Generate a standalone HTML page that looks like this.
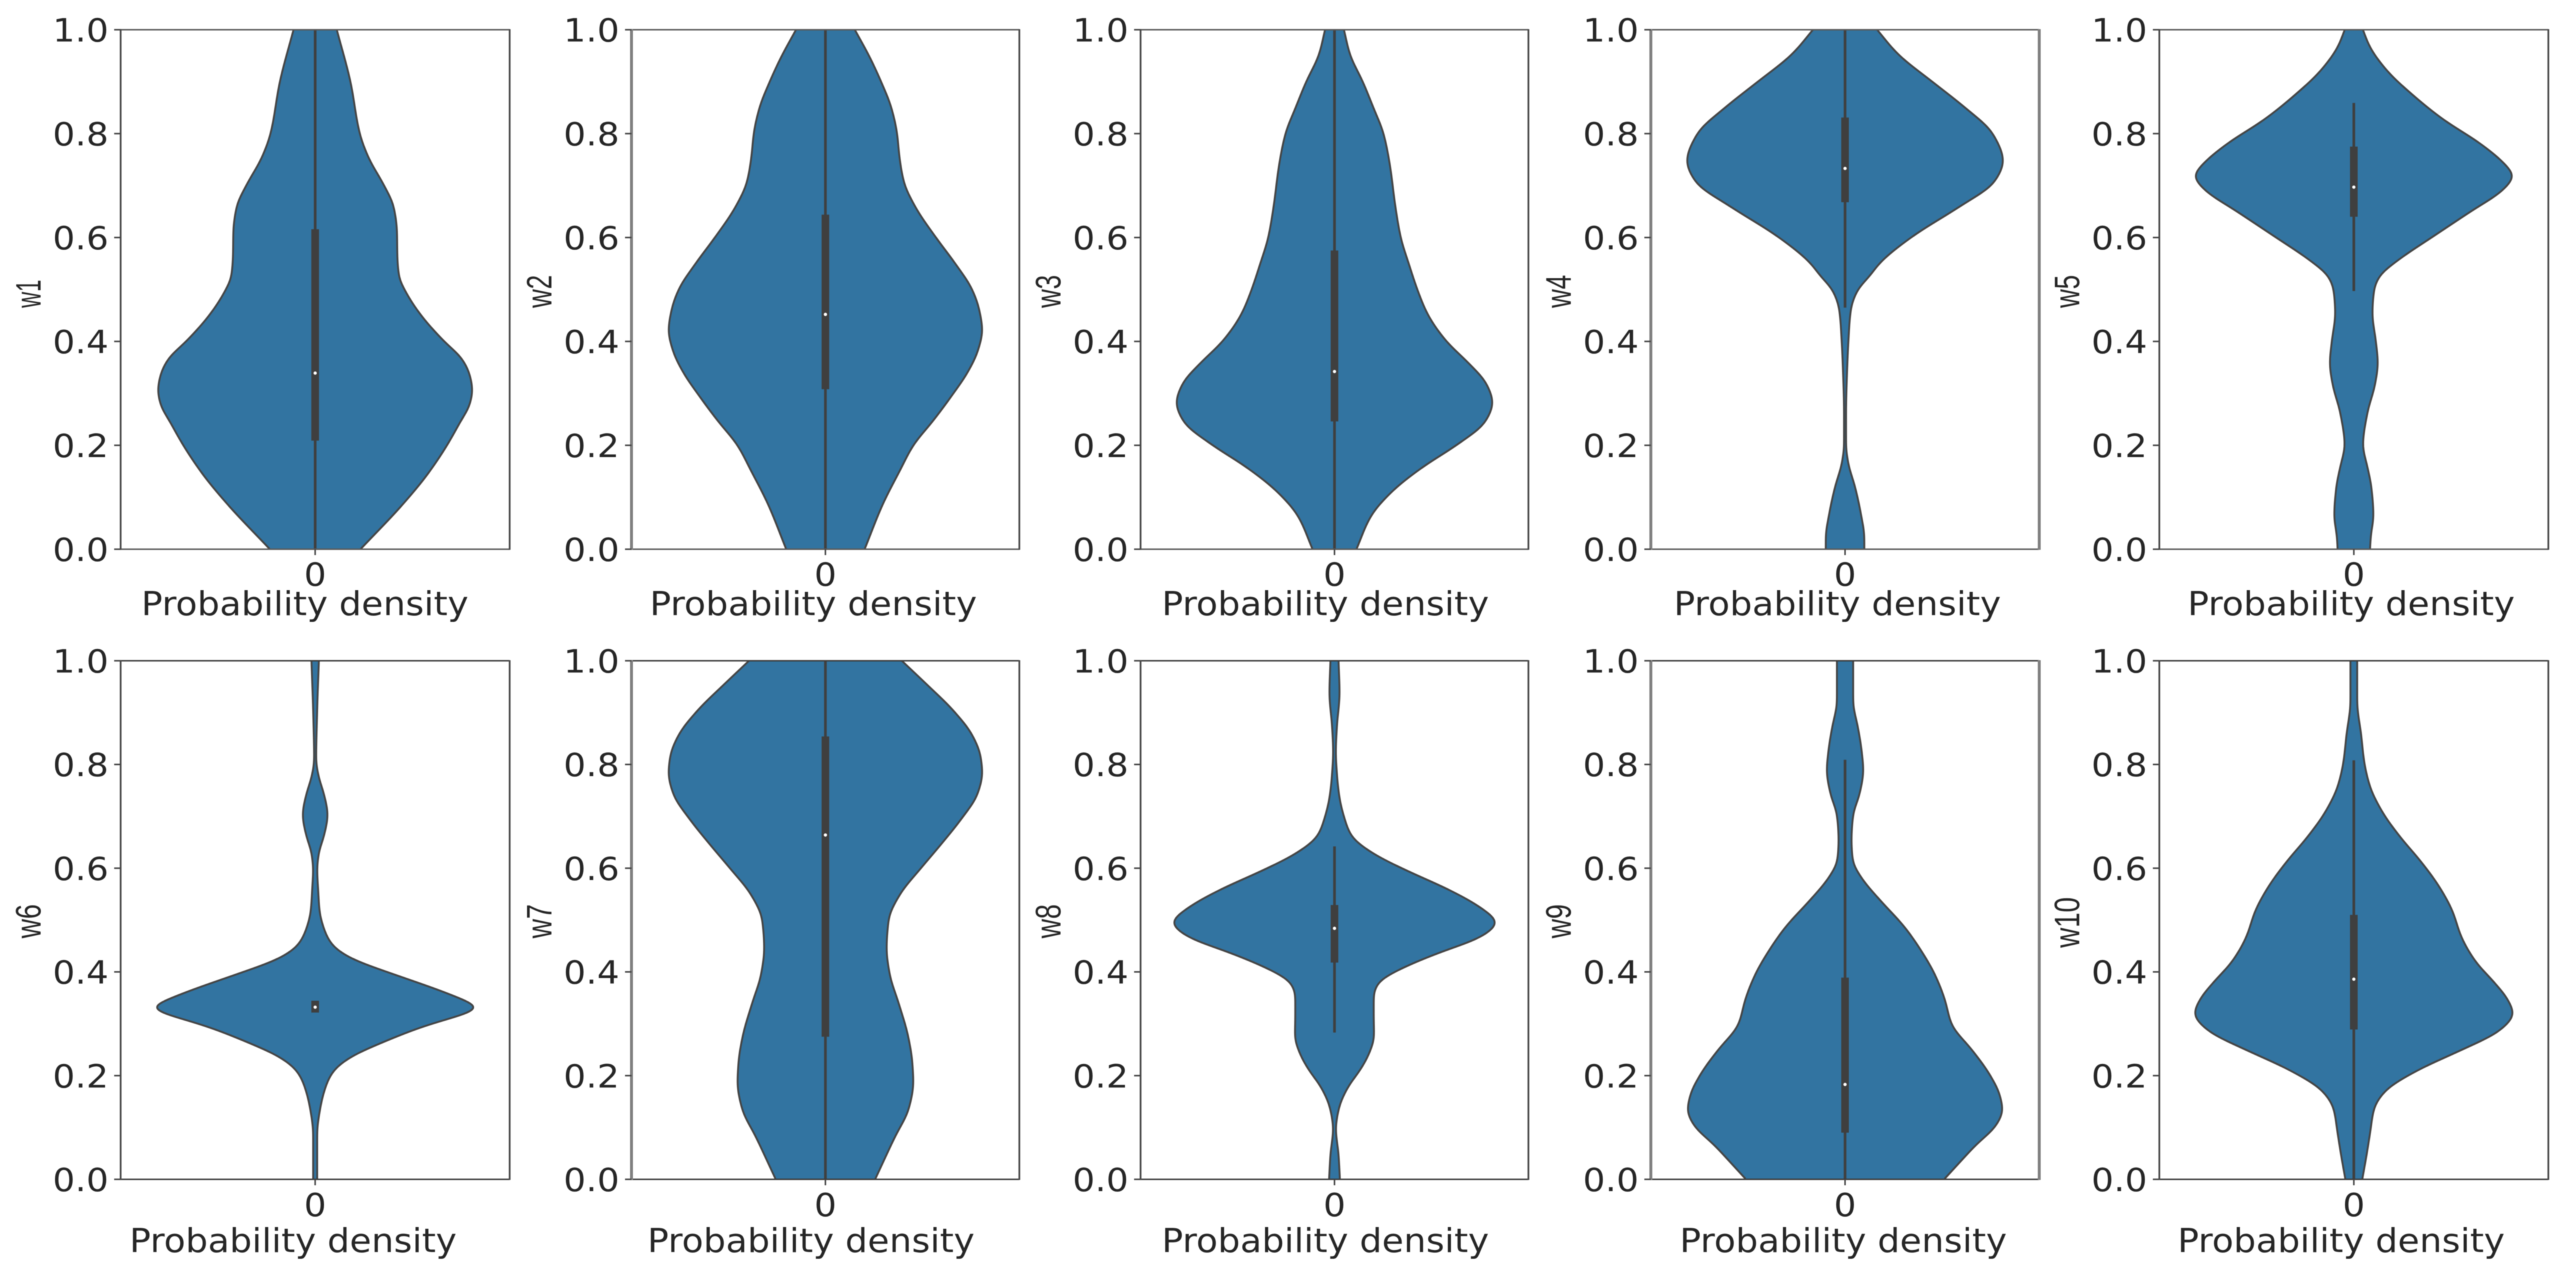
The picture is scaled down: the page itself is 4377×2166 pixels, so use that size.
<!DOCTYPE html>
<html lang="en">
<head>
<meta charset="utf-8">
<title>Violin plots of w1 to w10</title>
<style>
html,body{margin:0;padding:0;background:#fff;}
svg{display:block;filter:blur(0.7px);}
text{fill:#262626;font-family:"DejaVu Sans","Liberation Sans",sans-serif;}
.ylab{font-family:"Liberation Sans","DejaVu Sans",sans-serif;}
</style>
</head>
<body>
<svg id="chart" xmlns="http://www.w3.org/2000/svg" width="4377" height="2166" viewBox="0 0 4377 2166"></svg>
<script>
// ---- data ----
const categories = ['w1','w2','w3','w4','w5','w6','w7','w8','w9','w10'];
const yTickValues = [0, 0.2, 0.4, 0.6, 0.8, 1.0];
const yTickLabels = ['0.0','0.2','0.4','0.6','0.8','1.0'];
const xTickLabel = '0';
const xAxisTitle = 'Probability density';

const w1Y = [1,.898,.8,.755,.7,.66,.612,.565,.525,.493,.453,.401,.366,.334,.306,.278,.246,.2,.143,.087,0];
const w1Density = [64,105,132,157,204,232,242,243,248,270,310,380,435,458,465,457,430,390,331,260,134];

const w2Y = [1,.946,.898,.85,.8,.755,.707,.66,.6,.549,.5,.461,.421,.382,.342,.294,.246,.2,.151,.087,0];
const w2Density = [87,132,166,195,212,219,232,265,327,385,434,455,464,451,422,372,317,260,220,170,116];

const w3Y = [1,.954,.898,.85,.8,.739,.66,.6,.549,.5,.453,.401,.358,.318,.282,.246,.2,.159,.111,.064,0];
const w3Density = [28,45,85,115,145,164,180,196,220,245,275,330,397,450,468,447,360,263,170,108,65];

const w4Y = [1,.954,.898,.85,.8,.747,.707,.66,.6,.549,.525,.5,.461,.401,.342,.262,.2,.167,.119,.064,.024,0];
const w4Density = [95,155,262,355,437,468,442,340,195,100,72,38,17,10,6,3,3,9,30,48,57,57];

const w5Y = [1,.97,.922,.874,.827,.779,.739,.719,.692,.652,.6,.556,.525,.5,.453,.401,.358,.318,.262,.2,.159,.119,.064,.024,0];
const w5Density = [27,45,97,175,265,378,450,472,442,350,230,130,75,60,55,65,71,63,40,27,40,52,58,50,48];

const w6Y = [1,.905,.808,.775,.743,.703,.662,.63,.598,.557,.517,.485,.452,.428,.396,.364,.343,.331,.319,.299,.267,.234,.21,.186,.137,.089,0];
const w6Density = [11,6,3,11,26,37,26,11,6,9,13,25,50,100,230,370,450,490,445,338,210,100,55,35,15,6,6];

const w7Y = [1,.953,.905,.856,.816,.783,.743,.695,.646,.598,.549,.501,.444,.396,.339,.275,.226,.186,.137,.081,0];
const w7Density = [226,302,377,435,459,464,450,402,342,280,220,187,181,190,217,245,257,260,247,205,147];

const w8Y = [1,.937,.872,.824,.775,.735,.695,.662,.63,.598,.557,.525,.495,.469,.436,.404,.38,.355,.315,.275,.242,.21,.178,.137,.097,.048,0];
const w8Density = [12,15,7,4,8,15,30,50,110,205,343,430,480,438,305,190,130,116,116,117,102,75,40,13,4,12,16];

const w9Y = [1,.921,.872,.832,.788,.743,.703,.654,.614,.582,.541,.485,.436,.396,.347,.299,.25,.202,.162,.133,.105,.065,.032,0];
const w9Density = [24,24,38,48,54,43,24,19,23,48,100,178,230,265,295,315,375,428,458,466,448,385,338,293];

const w10Y = [1,.921,.856,.808,.759,.711,.662,.614,.565,.517,.469,.42,.38,.347,.319,.287,.25,.21,.17,.137,.089,.048,0];
const w10Density = [10,10,22,30,47,82,135,197,252,292,317,360,415,455,472,432,320,188,92,60,48,38,25];

const q1Values = [.209,.308,.246,.668,.64,.325,.275,.418,.09,.289];
const q3Values = [.616,.644,.575,.831,.775,.341,.854,.529,.389,.51];
const medianValues = [.339,.452,.342,.733,.697,.332,.664,.484,.183,.386];
const whiskerLowValues = [0,0,0,.465,.497,.325,0,.283,0,0];
const whiskerHighValues = [1,1,1,1,.859,.341,1,.642,.809,.808];

const seriesY = [w1Y,w2Y,w3Y,w4Y,w5Y,w6Y,w7Y,w8Y,w9Y,w10Y];
const seriesDensity = [w1Density,w2Density,w3Density,w4Density,w5Density,w6Density,w7Density,w8Density,w9Density,w10Density];

// ---- layout ----
const DENSITY_MAX = 463;
const HALF_WIDTH_PX = 266;
const SMOOTH_SIGMA_PX = 8;
const SAMPLE_STEP_PX = 2;
const columnLeft = [205, 1073, 1938, 2805, 3669];
const columnRight = [866, 1732, 2597, 3465, 4330];
const rowTop = [50.5, 1122.5];
const rowBottom = [933, 2003.5];
const xTitleLeft = [244, 1108, 1978, 2848, 3721, 224, 1104, 1978, 2858, 3704];
const yTitleLen = [48, 56, 56, 56, 56, 58, 58, 58, 58, 86];
const thickLeft = [false, true, false, true, false, false, true, false, true, false];
const thickRight = [false, false, false, true, false, false, false, false, true, false];

const NS = 'http://www.w3.org/2000/svg';
const svg = document.getElementById('chart');
const defs = document.createElementNS(NS, 'defs');
svg.appendChild(defs);

function make(tag, attrs, parent) {
  const node = document.createElementNS(NS, tag);
  for (const k in attrs) node.setAttribute(k, attrs[k]);
  parent.appendChild(node);
  return node;
}

// Monotone cubic interpolation of half-widths over pixel y, then a small Gaussian
// smoothing so the read-off points give the soft KDE outline.
function smoothProfile(ys, hs) {
  const n = ys.length, d = [], m = [];
  for (let i = 0; i < n - 1; i++) d.push((hs[i + 1] - hs[i]) / (ys[i + 1] - ys[i]));
  m.push(d[0]);
  for (let i = 1; i < n - 1; i++) {
    if (d[i - 1] * d[i] <= 0) { m.push(0); continue; }
    const a = ys[i] - ys[i - 1], b = ys[i + 1] - ys[i];
    m.push((a + b) * 3 / ((2 * b + a) / d[i - 1] + (b + 2 * a) / d[i]));
  }
  m.push(d[n - 2]);
  const py = [], ph = [];
  let seg = 0;
  for (let y = ys[0]; y <= ys[n - 1] + 0.001; y += SAMPLE_STEP_PX) {
    while (seg < n - 2 && y > ys[seg + 1]) seg++;
    const h = ys[seg + 1] - ys[seg], t = (y - ys[seg]) / h;
    const t2 = t * t, t3 = t2 * t;
    py.push(y);
    ph.push((2 * t3 - 3 * t2 + 1) * hs[seg] + (t3 - 2 * t2 + t) * h * m[seg] +
            (-2 * t3 + 3 * t2) * hs[seg + 1] + (t3 - t2) * h * m[seg + 1]);
  }
  const radius = Math.ceil(3 * SMOOTH_SIGMA_PX / SAMPLE_STEP_PX);
  const out = [];
  const N = ph.length;
  for (let i = 0; i < N; i++) {
    let sum = 0, wsum = 0;
    for (let k = -radius; k <= radius; k++) {
      const w = Math.exp(-0.5 * Math.pow(k * SAMPLE_STEP_PX / SMOOTH_SIGMA_PX, 2));
      const j = i + k;
      let v;
      if (j < 0) v = 2 * ph[0] - ph[Math.min(-j, N - 1)];
      else if (j >= N) v = 2 * ph[N - 1] - ph[Math.max(2 * N - 2 - j, 0)];
      else v = ph[j];
      sum += w * v; wsum += w;
    }
    out.push(Math.max(sum / wsum, 0));
  }
  return { ys: py, hs: out };
}

function polyline(xs, ys) {
  let cmd = '';
  for (let i = 0; i < xs.length; i++) cmd += (i ? ' L' : 'M') + xs[i].toFixed(2) + ' ' + ys[i].toFixed(2);
  return cmd;
}

categories.forEach(function (cat, p) {
  const col = p % 5, row = p < 5 ? 0 : 1;
  const left = columnLeft[col], right = columnRight[col];
  const top = rowTop[row], bottom = rowBottom[row];
  const center = (left + right) / 2;
  const yScale = function (v) { return bottom - v * (bottom - top); };
  const widthScale = function (d) { return d / DENSITY_MAX * HALF_WIDTH_PX; };

  const panel = make('g', {}, svg);
  
  

  const clip = make('clipPath', { id: 'clip-' + cat }, defs);
  make('rect', { x: left, y: top, width: right - left, height: bottom - top }, clip);

  const marks = make('g', { 'clip-path': 'url(#clip-' + cat + ')' }, panel);
  
  

  const profile = smoothProfile(seriesY[p].map(yScale), seriesDensity[p].map(widthScale));
  const rightXs = profile.hs.map(function (h) { return center + h; });
  const leftXs = profile.hs.map(function (h) { return center - h; });
  const rightCmd = polyline(rightXs, profile.ys);
  const leftCmd = polyline(leftXs, profile.ys);
  const backCmd = polyline(leftXs.slice().reverse(), profile.ys.slice().reverse()).replace(/^M/, ' L');

  const body = make('path', { d: rightCmd + backCmd + ' Z', fill: '#3274a1' }, marks);
  
  

  const outlineRight = make('path', { d: rightCmd, fill: 'none', stroke: '#454545', 'stroke-width': 3.2, 'stroke-linejoin': 'round' }, marks);
  
  

  const outlineLeft = make('path', { d: leftCmd, fill: 'none', stroke: '#454545', 'stroke-width': 3.2, 'stroke-linejoin': 'round' }, marks);
  
  

  const whisker = make('line', { x1: center, x2: center, y1: yScale(whiskerLowValues[p]), y2: yScale(whiskerHighValues[p]), stroke: '#3f3f3f', 'stroke-width': 4.5 }, marks);
  
  

  const box = make('rect', { x: center - 6.5, width: 13, y: yScale(q3Values[p]) - (p === 5 ? 3 : 0), height: yScale(q1Values[p]) - yScale(q3Values[p]) + (p === 5 ? 6 : 0), fill: '#3f3f3f' }, marks);
  
  

  const median = make('circle', { cx: center, cy: yScale(medianValues[p]), r: 2.8, fill: '#ffffff' }, marks);
  
  

  // spines
  const spineTop = make('line', { x1: left, x2: right, y1: top, y2: top, stroke: row ? '#3c3c3c' : '#5a5a5a', 'stroke-width': 2.6 }, panel);
  
  

  const spineBottom = make('line', { x1: left, x2: right, y1: bottom, y2: bottom, stroke: row ? '#3c3c3c' : '#5a5a5a', 'stroke-width': 2.6 }, panel);
  
  

  const spineLeft = make('line', { x1: left, x2: left, y1: top - 1, y2: bottom + 1, stroke: thickLeft[p] ? '#808080' : '#4a4a4a', 'stroke-width': thickLeft[p] ? 5 : 3 }, panel);
  
  

  const spineRight = make('line', { x1: right, x2: right, y1: top - 1, y2: bottom + 1, stroke: thickRight[p] ? '#808080' : '#4a4a4a', 'stroke-width': thickRight[p] ? 5 : 3 }, panel);
  
  

  // y ticks
  yTickValues.forEach(function (v, i) {
    const ty = yScale(v);
    const tick = make('line', { x1: left - 11, x2: left, y1: ty, y2: ty, stroke: '#444444', 'stroke-width': 2.6 }, panel);
    
    

    const label = make('text', { x: left - 115.5, y: ty + 20, 'font-size': 54, textLength: 95, lengthAdjust: 'spacingAndGlyphs' }, panel);
    label.textContent = yTickLabels[i];
    
    
  });

  // x tick
  const xTick = make('line', { x1: center, x2: center, y1: bottom, y2: bottom + 10, stroke: '#444444', 'stroke-width': 2.6 }, panel);
  
  

  const xTickText = make('text', { x: center - 19, y: bottom + (row ? 62.5 : 62), 'font-size': 54, textLength: 38, lengthAdjust: 'spacingAndGlyphs' }, panel);
  xTickText.textContent = xTickLabel;
  
  

  const xTitle = make('text', { x: xTitleLeft[p] - 4, y: bottom + (row ? 123.5 : 112), 'font-size': 56, textLength: 556, lengthAdjust: 'spacingAndGlyphs' }, panel);
  xTitle.textContent = xAxisTitle;
  
  

  // y title, rotated, reading upwards
  const yStart = row ? 1594 + (p === 9 ? 16 : 0) : 523;
  const yTitle = make('text', {
    'class': 'ylab',
    transform: 'translate(' + (left - 136) + ' ' + yStart + ') rotate(-90)',
    x: 0, y: 0, 'font-size': 60,
    textLength: yTitleLen[p], lengthAdjust: 'spacingAndGlyphs'
  }, panel);
  yTitle.textContent = cat;
  
  
});
</script>
</body>
</html>
